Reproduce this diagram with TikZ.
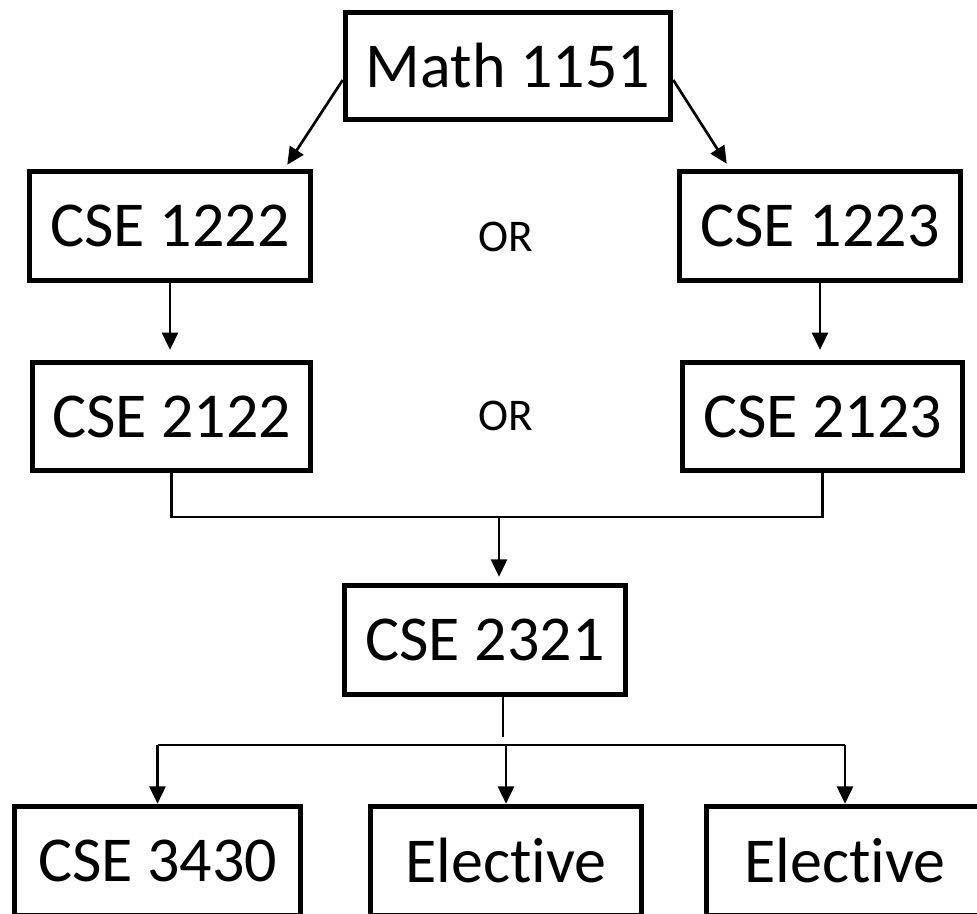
\documentclass[tikz,border=0pt]{standalone}
\usepackage{fontspec}
\setmainfont{Carlito}[Ligatures=NoCommon]
\usetikzlibrary{arrows.meta,calc}

\tikzset{every picture/.style={line width=0.75pt}}
\tikzset{
	course/.style={draw, line width=3.9pt, inner sep=0pt, align=center, font=\fontsize{48}{58}\selectfont},
	ortext/.style={inner sep=0pt, font=\fontsize{34}{40}\selectfont},
	link/.style={line width=2pt},
	arr/.style={link, -{Triangle[width=12pt,length=13pt]}}
}
\def \boxW {211pt}
\def \boxH {82pt}

\begin{document}
\begin{tikzpicture}[x=0.75pt,y=0.75pt,yscale=-1,xscale=1]

	\useasboundingbox (0,0) rectangle (977,913);
	\clip (0,0) rectangle (977,913);

	%Shape: Rectangle [top course]
	\node [course, minimum width=244pt, minimum height=80pt] (math) at (508,66) {Math 1151};

	%Shape: Rectangle [first year]
	\node [course, minimum width=\boxW, minimum height=\boxH] (c1222) at (170,226) {CSE 1222};
	\node [course, minimum width=\boxW, minimum height=\boxH] (c1223) at (820,226) {CSE 1223};

	%Shape: Rectangle [second year]
	\node [course, minimum width=209pt, minimum height=81pt] (c2122) at (171.5,416.5) {CSE 2122};
	\node [course, minimum width=210pt, minimum height=81pt] (c2123) at (822.5,416.5) {CSE 2123};

	%Shape: Rectangle [core]
	\node [course, minimum width=\boxW, minimum height=\boxH] (c2321) at (485,640) {CSE 2321};

	%Shape: Rectangle [bottom row]
	\node [course, minimum width=215pt, minimum height=\boxH] (b1) at (157.5,861) {CSE 3430};
	\node [course, minimum width=203pt, minimum height=\boxH] (b2) at (506,861) {Elective};
	\node [course, minimum width=208pt, minimum height=\boxH] (b3) at (845,861) {Elective};

	% Text Node
	\node [ortext] (or1) at (506,237) {OR};
	% Text Node
	\node [ortext] (or2) at (506,416) {OR};

	% Connectors
	\draw [arr] ($(math.west)+(0,14)$) -- ($(c1222.north east)+(-26,-4)$);
	\draw [arr] ($(math.east)+(0,14)$) -- ($(c1223.north west)+(50,-5)$);
	\draw [arr] (c1222.south) -- ($(c1222.south |- c2122.north)+(0,-10)$);
	\draw [arr] (c1223.south) -- ($(c1223.south |- c2123.north)+(0,-10)$);

	\coordinate (join) at (499,517);
	\draw [link] (c2122.south) |- (join) -| (c2123.south);
	\draw [arr] (join) -- ($(join |- c2321.north)+(0,-6)$);

	\coordinate (fork) at (503,745);
	\draw [link] (fork |- c2321.south) -- ($(fork)+(0,-8)$);
	\draw [link] (fork -| b1.north) -- (fork -| b3.north);
	\foreach \b in {b1,b2,b3}
		\draw [arr] (fork -| \b.north) -- (\b.north);

\end{tikzpicture}
\end{document}
